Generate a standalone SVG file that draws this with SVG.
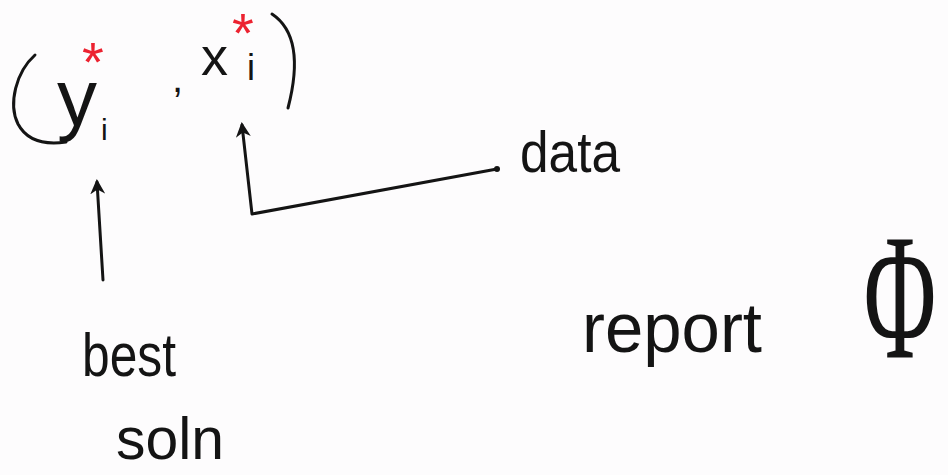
<svg xmlns="http://www.w3.org/2000/svg" width="948" height="475" viewBox="0 0 948 475">
  <style>
    .ink { fill: none; stroke: #141414; stroke-width: 3; stroke-linecap: round; stroke-linejoin: round; }
    .hand { font-family: "Liberation Sans", "DejaVu Sans", sans-serif; fill: #141414; }
    .star { fill: #ec2230; font-size: 56px; }
  </style>
  <defs>
    <marker id="head" viewBox="0 0 10 10" refX="8" refY="5" markerWidth="5" markerHeight="5" orient="auto-start-reverse" markerUnits="strokeWidth">
      <path d="M0,0 L10,5 L0,10 L3,5 Z" fill="#141414"/>
    </marker>
  </defs>
  <rect width="948" height="475" fill="#fdfcfd"/>

  <!-- tuple (y_i*, x_i*) -->
  <g id="tuple">
    <path class="ink" d="M35,55 C16,72 8,104 18,124 C27,141 45,145 66,142"/>
    <text class="hand" font-size="80"><tspan x="57" y="125">y</tspan><tspan class="star" x="82" y="81">*</tspan><tspan x="101" y="140" font-size="30">i</tspan></text>
    <text class="hand" x="172" y="92" font-size="40">,</text>
    <text class="hand" font-size="54"><tspan x="201" y="75" font-size="54">x</tspan><tspan class="star" x="232" y="52">*</tspan><tspan x="247" y="80" font-size="36">i</tspan></text>
    <path class="ink" d="M272,14 C293,28 301,58 288,108"/>
  </g>

  <g id="data">
    <text class="hand" x="520" y="172" font-size="58" textLength="100" lengthAdjust="spacingAndGlyphs">data</text>
    <circle cx="497" cy="169" r="3" fill="#141414"/>
  </g>

  <g id="best-soln">
    <text class="hand" x="82" y="376" font-size="62" textLength="94" lengthAdjust="spacingAndGlyphs">best</text>
    <text class="hand" x="116" y="459" font-size="60" textLength="108" lengthAdjust="spacingAndGlyphs">soln</text>
  </g>

  <g id="report">
    <text class="hand" x="582" y="352" font-size="70" textLength="180" lengthAdjust="spacingAndGlyphs">report</text>
  </g>

  <g id="phi">
    <text x="900" y="358" font-size="180" text-anchor="middle" transform="translate(900,0) scale(0.55,1) translate(-900,0)" style="font-family:'Liberation Serif','DejaVu Serif',serif;fill:#141414">Φ</text>
  </g>

  <g id="connectors">
    <path class="ink" d="M497,169 L252,214 L242,125" marker-end="url(#head)"/>
    <path class="ink" d="M103,280 L97,182" marker-end="url(#head)"/>
  </g>
</svg>
